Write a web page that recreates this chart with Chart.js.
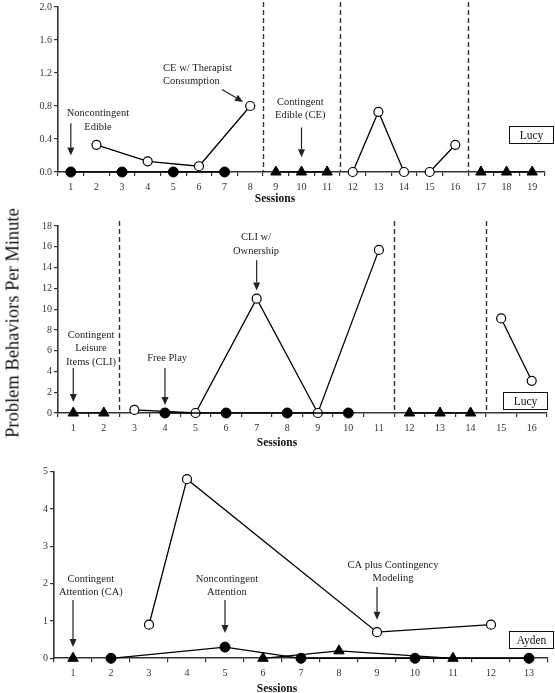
<!DOCTYPE html>
<html lang="en">
<head>
<meta charset="utf-8">
<title>Problem Behaviors Per Minute</title>
<script src="https://cdn.jsdelivr.net/npm/chart.js@4.4.1/dist/chart.umd.min.js"></script>
<style>
  html, body { margin: 0; padding: 0; background: #fff; }
  body { position: relative; width: 555px; height: 693px; overflow: hidden; }
  canvas { position: absolute; left: 0; }
  #ytitle {
    position: absolute; left: 13px; top: 323px;
    transform: translate(-50%, -50%) rotate(-90deg);
    font-family: 'Liberation Serif', 'Times New Roman', serif;
    font-size: 18.5px; color: #111; white-space: nowrap;
  }
</style>
</head>
<body>
<canvas id="lucyEdible" width="555" height="205" style="top:0"></canvas>
<canvas id="lucyLeisure" width="555" height="235" style="top:215px"></canvas>
<canvas id="aydenAttention" width="555" height="233" style="top:460px"></canvas>
<div id="ytitle">Problem Behaviors Per Minute</div>
<script>
const FONT = "'Liberation Serif', 'Times New Roman', serif";
Chart.defaults.font.family = FONT;
Chart.defaults.color = '#333';

// Lucy - edible conditions (top panel)
const edibleSessionCount = 19;
const edibleFilledSessions = [[1, 3, 5, 7]];
const edibleFilledValues = [[0, 0, 0, 0]];
const edibleOpenSessions = [[2, 4, 6, 8], [12, 13, 14], [15, 16]];
const edibleOpenValues = [[0.33, 0.13, 0.07, 0.8], [0, 0.73, 0], [0, 0.33]];
const edibleTriSessions = [[9, 10, 11], [17, 18, 19]];
const edibleTriValues = [[0, 0, 0], [0, 0, 0]];
const ediblePhaseLines = [8.5, 11.5, 16.5];
const edibleYTicks = [0, 0.4, 0.8, 1.2, 1.6, 2.0];

// Lucy - leisure item conditions (middle panel)
const leisureSessionCount = 16;
const leisureFilledSessions = [[4, 6, 8, 10]];
const leisureFilledValues = [[0, 0, 0, 0]];
const leisureOpenSessions = [[3, 5, 7, 9, 11], [15, 16]];
const leisureOpenValues = [[0.3, 0, 11, 0, 15.7], [9.1, 3.1]];
const leisureTriSessions = [[1, 2], [12, 13, 14]];
const leisureTriValues = [[0, 0], [0, 0, 0]];
const leisurePhaseLines = [2.5, 11.5, 14.5];
const leisureYTicks = [0, 2, 4, 6, 8, 10, 12, 14, 16, 18];

// Ayden - attention conditions (bottom panel)
const attentionSessionCount = 13;
const attentionFilledSessions = [[2, 5, 7, 10, 13]];
const attentionFilledValues = [[0, 0.3, 0, 0, 0]];
const attentionOpenSessions = [[3, 4, 9, 12]];
const attentionOpenValues = [[0.9, 4.8, 0.7, 0.9]];
const attentionTriSessions = [[1], [6, 8, 11]];
const attentionTriValues = [[0], [0, 0.2, 0]];
const attentionPhaseLines = [];
const attentionYTicks = [0, 1, 2, 3, 4, 5];

const filledStyle = {
  borderColor: '#000', borderWidth: 1.3, pointStyle: 'circle', pointRadius: 5,
  pointBackgroundColor: '#000', pointBorderColor: '#000', pointBorderWidth: 1
};
const openStyle = {
  borderColor: '#000', borderWidth: 1.3, pointStyle: 'circle', pointRadius: 4.5,
  pointBackgroundColor: '#fff', pointBorderColor: '#000', pointBorderWidth: 1.2
};
const triStyle = {
  borderColor: '#000', borderWidth: 1.3, pointStyle: 'triangle', pointRadius: 6,
  pointBackgroundColor: '#000', pointBorderColor: '#000', pointBorderWidth: 1
};

function segments(sessions, values, style) {
  return sessions.map((s, i) => Object.assign({
    data: s.map((x, j) => ({ x: x, y: values[i][j] })),
    fill: false, tension: 0, clip: false
  }, style));
}

function drawArrow(ctx, x1, y1, x2, y2) {
  const ang = Math.atan2(y2 - y1, x2 - x1);
  const len = 8, half = 3.5;
  const bx = x2 - Math.cos(ang) * len, by = y2 - Math.sin(ang) * len;
  ctx.beginPath();
  ctx.moveTo(x1, y1);
  ctx.lineTo(bx, by);
  ctx.stroke();
  ctx.beginPath();
  ctx.moveTo(x2, y2);
  ctx.lineTo(bx - Math.sin(ang) * half, by + Math.cos(ang) * half);
  ctx.lineTo(bx + Math.sin(ang) * half, by - Math.cos(ang) * half);
  ctx.closePath();
  ctx.fill();
}

function decor(cfg) {
  return {
    id: 'decor',
    beforeDatasetsDraw(chart) {
      const { ctx, chartArea, scales: { x } } = chart;
      ctx.save();
      ctx.strokeStyle = '#333';
      ctx.lineWidth = 1.4;
      ctx.setLineDash([5, 3]);
      cfg.phases.forEach(p => {
        const px = Math.round(x.getPixelForValue(p)) + 0.5;
        ctx.beginPath();
        ctx.moveTo(px, chartArea.top - 5);
        ctx.lineTo(px, chartArea.bottom);
        ctx.stroke();
      });
      ctx.restore();
    },
    afterDraw(chart) {
      const { ctx, scales: { x, y } } = chart;
      ctx.save();
      ctx.fillStyle = '#222';
      ctx.strokeStyle = '#222';
      ctx.lineWidth = 1.2;
      ctx.font = '10.5px ' + FONT;
      ctx.textBaseline = 'middle';
      cfg.notes.forEach(n => {
        ctx.textAlign = n.align || 'center';
        const tx = x.getPixelForValue(n.x);
        const ty = y.getPixelForValue(n.y);
        n.lines.forEach((line, i) => ctx.fillText(line, tx, ty + i * 13.5));
        const a = n.arrow;
        drawArrow(ctx, x.getPixelForValue(a[0]), y.getPixelForValue(a[1]),
                  x.getPixelForValue(a[2]), y.getPixelForValue(a[3]));
      });
      // participant box
      const b = cfg.box;
      const bx = Math.round(x.getPixelForValue(b.x)) + 0.5;
      const by = Math.round(y.getPixelForValue(b.y) - 8.5) + 0.5;
      ctx.fillStyle = '#fff';
      ctx.fillRect(bx, by, 44, 17);
      ctx.strokeStyle = '#111';
      ctx.lineWidth = 1;
      ctx.strokeRect(bx, by, 44, 17);
      ctx.fillStyle = '#111';
      ctx.textAlign = 'center';
      ctx.font = '11.5px ' + FONT;
      ctx.fillText(b.text, bx + 22, by + 9);
      // axis caption
      ctx.font = 'bold 11.5px ' + FONT;
      ctx.fillText('Sessions', cfg.caption[0], cfg.caption[1]);
      ctx.restore();
    }
  };
}

function makeChart(id, p) {
  const n = p.count;
  const datasets = [].concat(
    segments(p.filled[0], p.filled[1], filledStyle),
    segments(p.tri[0], p.tri[1], triStyle),
    segments(p.open[0], p.open[1], openStyle)
  );
  return new Chart(document.getElementById(id), {
    type: 'line',
    data: { datasets: datasets },
    options: {
      responsive: false,
      animation: false,
      events: [],
      layout: { padding: p.padding },
      plugins: { legend: { display: false }, tooltip: { enabled: false } },
      scales: {
        x: {
          type: 'linear', min: 0.5, max: n + 0.5,
          afterBuildTicks: s => {
            const t = [];
            for (let v = 0.5; v <= n + 0.5; v += 0.5) t.push({ value: v });
            s.ticks = t;
          },
          afterFit: s => { s.height = p.xAxisHeight; },
          ticks: {
            autoSkip: false, maxRotation: 0, padding: 6,
            font: { size: 10, lineHeight: 1 }, color: '#333',
            callback: v => Number.isInteger(v) ? String(v) : ''
          },
          grid: {
            drawOnChartArea: false, tickLength: 4, lineWidth: 1.2,
            tickColor: c => (c.tick && Number.isInteger(c.tick.value)) ? 'rgba(0,0,0,0)' : '#333'
          },
          border: { color: '#333', width: 1.6 }
        },
        y: {
          min: p.yTicks[0], max: p.yTicks[p.yTicks.length - 1],
          afterBuildTicks: s => { s.ticks = p.yTicks.map(v => ({ value: v })); },
          afterFit: s => { s.width = p.yAxisWidth; },
          ticks: {
            padding: 2, font: { size: 10, lineHeight: 1 }, color: '#333',
            callback: p.yFormat
          },
          grid: { drawOnChartArea: false, tickLength: 4, lineWidth: 1.2, tickColor: '#333' },
          border: { color: '#333', width: 1.6 }
        }
      }
    },
    plugins: [decor(p.decor)]
  });
}

makeChart('lucyEdible', {
  count: edibleSessionCount,
  filled: [edibleFilledSessions, edibleFilledValues],
  open: [edibleOpenSessions, edibleOpenValues],
  tri: [edibleTriSessions, edibleTriValues],
  yTicks: edibleYTicks,
  yFormat: v => v.toFixed(1),
  padding: { left: 0, right: 10, top: 5, bottom: 0 },
  yAxisWidth: 58, xAxisHeight: 33,
  decor: {
    phases: ediblePhaseLines,
    notes: [
      { lines: ['Noncontingent', 'Edible'], x: 2.06, y: 0.71, arrow: [1, 0.59, 1, 0.2] },
      { lines: ['CE w/ Therapist', 'Consumption'], x: 4.6, y: 1.26, align: 'left', arrow: [6.9, 1.0, 7.72, 0.85] },
      { lines: ['Contingent', 'Edible (CE)'], x: 9.95, y: 0.85, arrow: [10, 0.54, 10, 0.18] }
    ],
    box: { text: 'Lucy', x: 18.1, y: 0.45 },
    caption: [275, 199]
  }
});

makeChart('lucyLeisure', {
  count: leisureSessionCount,
  filled: [leisureFilledSessions, leisureFilledValues],
  open: [leisureOpenSessions, leisureOpenValues],
  tri: [leisureTriSessions, leisureTriValues],
  yTicks: leisureYTicks,
  yFormat: v => String(v),
  padding: { left: 0, right: 8, top: 11, bottom: 0 },
  yAxisWidth: 58, xAxisHeight: 37,
  decor: {
    phases: leisurePhaseLines,
    notes: [
      { lines: ['Contingent', 'Leisure', 'Items (CLI)'], x: 1.58, y: 7.5, arrow: [1, 4.33, 1, 1.06] },
      { lines: ['Free Play'], x: 4.07, y: 5.3, arrow: [4, 4.33, 4, 0.77] },
      { lines: ['CLI w/', 'Ownership'], x: 6.98, y: 16.9, arrow: [7, 14.7, 7, 11.8] }
    ],
    box: { text: 'Lucy', x: 15.07, y: 1.2 },
    caption: [277, 228]
  }
});

makeChart('aydenAttention', {
  count: attentionSessionCount,
  filled: [attentionFilledSessions, attentionFilledValues],
  open: [attentionOpenSessions, attentionOpenValues],
  tri: [attentionTriSessions, attentionTriValues],
  yTicks: attentionYTicks,
  yFormat: v => String(v),
  padding: { left: 0, right: 7, top: 11.7, bottom: 0 },
  yAxisWidth: 54, xAxisHeight: 34.7,
  decor: {
    phases: attentionPhaseLines,
    notes: [
      { lines: ['Contingent', 'Attention (CA)'], x: 1.47, y: 2.13, arrow: [1, 1.56, 1, 0.3] },
      { lines: ['Noncontingent', 'Attention'], x: 5.05, y: 2.13, arrow: [5, 1.56, 5, 0.68] },
      { lines: ['CA plus Contingency', 'Modeling'], x: 9.42, y: 2.5, arrow: [9, 1.91, 9, 1.03] }
    ],
    box: { text: 'Ayden', x: 12.47, y: 0.5 },
    caption: [277, 229]
  }
});
</script>
</body>
</html>
